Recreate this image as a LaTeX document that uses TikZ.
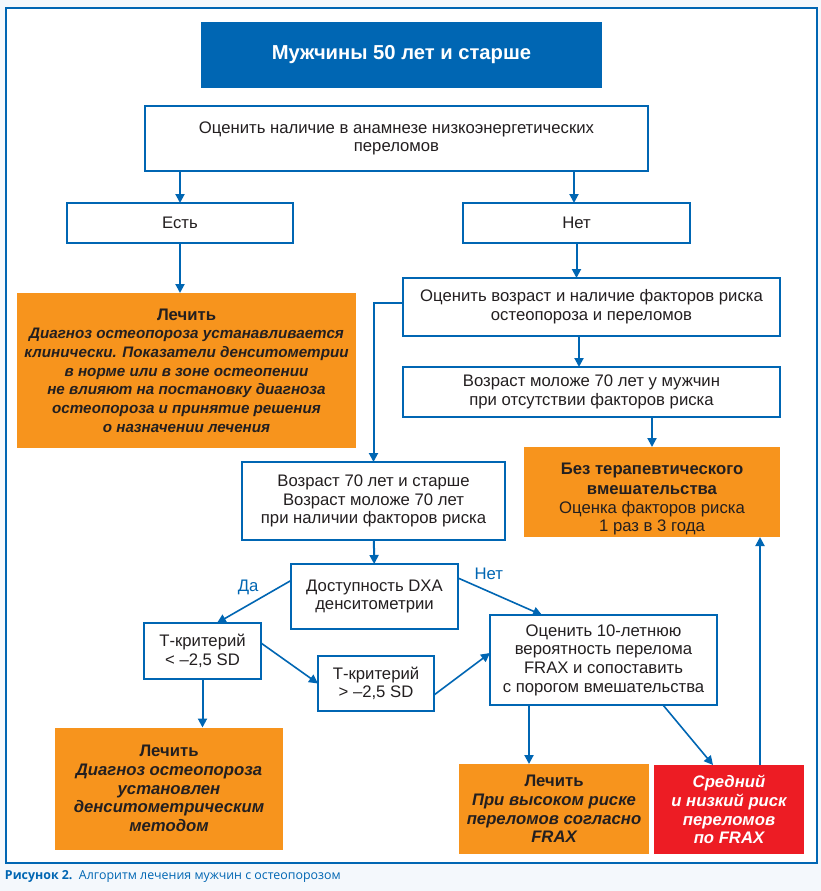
\documentclass[tikz,border=0pt]{standalone}
\usepackage{fontspec}
\setmainfont{Liberation Sans}
\newfontfamily\capfont{Open Sans}
\usetikzlibrary{arrows.meta}
\definecolor{mblue}{HTML}{0066B3}
\definecolor{morange}{HTML}{F7941D}
\definecolor{mred}{HTML}{ED1C24}
\definecolor{mtext}{HTML}{231F20}
\definecolor{mback}{HTML}{F4F8FC}
\begin{document}
\begin{tikzpicture}[x=1pt, y=-1pt,
    every node/.style={inner sep=0pt, outer sep=0pt, align=center, text=mtext, font=\fontsize{16.7}{18.7}\selectfont},
    box/.style={draw=mblue, line width=2.5pt, fill=white},
    treat/.style={fill=morange, font=\fontsize{16.7}{18.7}\selectfont\bfseries},
    risk/.style={fill=mred, text=white, font=\fontsize{16.7}{18.7}\selectfont\bfseries\itshape},
    arr/.style={draw=mblue, line width=2pt, -{Triangle[length=9pt,width=9pt]}},
    thin arr/.style={arr, line width=1.6pt},
    lbl/.style={text=mblue, fill=none}]
      \useasboundingbox (0,0) rectangle (821,891);
      \fill[mback] (0,0) rectangle (821,891);
      \draw[mblue, line width=1.5pt, fill=white] (6,8) rectangle (817,863);

      \node[fill=mblue, text=white, minimum width=401, minimum height=66, font=\fontsize{20.2}{23}\selectfont\bfseries] (title) at (401.5,55) {Мужчины 50 лет и старше};
      \node[box, minimum width=503, minimum height=65] (anam) at (396.5,138.5) {Оценить наличие в анамнезе низкоэнергетических\\переломов};
      \node[box, minimum width=226, minimum height=40] (est) at (180,223) {Есть};
      \node[box, minimum width=227, minimum height=40] (net) at (576.5,223) {Нет};
      \node[treat, minimum width=339, minimum height=155] (treatA) at (186.5,370.5) {Лечить\\ \fontsize{15.2}{18.3}\selectfont\itshape Диагноз остеопороза устанавливается\\ \fontsize{15.2}{18.3}\selectfont\itshape клинически. Показатели денситометрии\\ \fontsize{15.2}{18.3}\selectfont\itshape в норме или в зоне остеопении\\ \fontsize{15.2}{18.3}\selectfont\itshape не влияют на постановку диагноза\\ \fontsize{15.2}{18.3}\selectfont\itshape остеопороза и принятие решения\\ \fontsize{15.2}{18.3}\selectfont\itshape о назначении лечения};
      \node[box, minimum width=377, minimum height=58] (age) at (591.5,307) {Оценить возраст и наличие факторов риска\\остеопороза и переломов};
      \node[box, minimum width=377, minimum height=50] (young) at (591.5,392) {Возраст моложе 70 лет у мужчин\\при отсутствии факторов риска};
      \node[treat, minimum width=256, minimum height=90] (none) at (652,492) {\rule{0pt}{26pt}Без терапевтического\\[1pt]вмешательства\\ \mdseries Оценка факторов риска\\ \mdseries 1 раз в 3 года};
      \node[box, minimum width=263, minimum height=78] (old) at (373.5,501) {Возраст 70 лет и старше\\Возраст моложе 70 лет\\при наличии факторов риска};
      \node[box, minimum width=167, minimum height=65] (dxa) at (374.5,596.5) {Доступность DXA\\денситометрии};
      \node[box, minimum width=117, minimum height=56] (tlow) at (202.5,651) {Т-критерий\\< –2,5 SD};
      \node[box, minimum width=116, minimum height=55] (thigh) at (376,683.5) {Т-критерий\\> –2,5 SD};
      \node[box, minimum width=227, minimum height=90] (frax) at (603.5,660) {Оценить 10-летнюю\\вероятность перелома\\FRAX и сопоставить\\с порогом вмешательства};
      \node[treat, minimum width=228, minimum height=122] (treatB) at (169,788.5) {Лечить\\ \itshape Диагноз остеопороза\\ \itshape установлен\\ \itshape денситометрическим\\ \itshape методом};
      \node[treat, minimum width=190, minimum height=90] (treatC) at (554,809) {Лечить\\ \itshape При высоком риске\\ \itshape переломов согласно\\ \itshape FRAX};
      \node[risk, minimum width=150, minimum height=89] (frisk) at (729,809.5) {Средний\\и низкий риск\\переломов\\по FRAX};

      \draw[arr] (est.north |- anam.south) -- (est.north);
      \draw[arr] ([xshift=-2.5pt]net.north |- anam.south) -- ([xshift=-2.5pt]net.north);
      \draw[arr] (est.south) -- (est.south |- treatA.north);
      \draw[arr] (net.south) -- (net.south |- age.north);
      \draw[arr] ([xshift=-12.5pt]age.south) -- ([xshift=-12.5pt]young.north);
      \draw[arr] (none.north |- young.south) -- (none.north);
      \draw[arr] ([yshift=4pt]age.west) -| (old.north);
      \draw[arr] (old) -- (dxa);
      \draw[thin arr] ([yshift=16pt]dxa.west) -- node[lbl, above left=3pt, pos=0.4] {Да} ([xshift=14.5pt]tlow.north);
      \draw[thin arr] ([yshift=18.5pt]dxa.east) -- node[lbl, above right=4pt, pos=0.15] {Нет} ([xshift=-61.5pt]frax.north);
      \draw[thin arr] ([yshift=8pt]tlow.east) -- (thigh.west);
      \draw[thin arr] ([yshift=-11.5pt]thigh.east) -- ([yshift=7pt]frax.west);
      \draw[arr] (tlow.south) -- (tlow.south |- treatB.north);
      \draw[arr] ([xshift=-74.5pt]frax.south) -- ([xshift=-74.5pt]frax.south |- treatC.north);
      \draw[thin arr] ([xshift=59.5pt]frax.south) -- ([xshift=-16pt]frisk.north);
      \draw[arr] ([xshift=31pt]frisk.north) -- ([xshift=31pt]frisk.north |- none.south);

      \node[anchor=west, text=mblue, font=\capfont\fontsize{12.4}{14}\selectfont] (caption) at (5,876) {\textbf{Рисунок 2.}\ \ Алгоритм лечения мужчин с остеопорозом};
\end{tikzpicture}
\end{document}
